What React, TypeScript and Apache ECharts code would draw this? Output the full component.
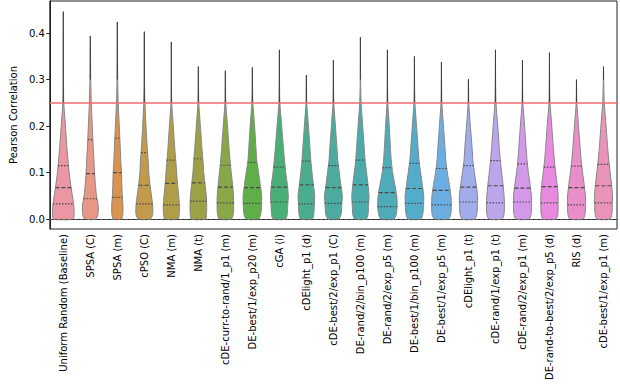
import React, { useEffect, useRef } from "react";
import * as echarts from "echarts";

const categories = [
  "Uniform Random (Baseline)",
  "SPSA (C)",
  "SPSA (m)",
  "cPSO (C)",
  "NMA (m)",
  "NMA (t)",
  "cDE-curr-to-rand/1_p1 (m)",
  "DE-best/1/exp_p20 (m)",
  "cGA (i)",
  "cDElight_p1 (d)",
  "cDE-best/2/exp_p1 (C)",
  "DE-rand/2/bin_p100 (m)",
  "DE-rand/2/exp_p5 (m)",
  "DE-best/1/bin_p100 (m)",
  "DE-best/1/exp_p5 (m)",
  "cDElight_p1 (t)",
  "cDE-rand/1/exp_p1 (t)",
  "cDE-rand/2/exp_p1 (m)",
  "DE-rand-to-best/2/exp_p5 (d)",
  "RIS (d)",
  "cDE-best/1/exp_p1 (m)",
];

const tops = [0.446, 0.394, 0.424, 0.403, 0.381, 0.328, 0.319, 0.326, 0.364, 0.31, 0.342,
  0.391, 0.364, 0.35, 0.338, 0.301, 0.364, 0.342, 0.358, 0.3, 0.328];
const q1 = [0.033, 0.044, 0.047, 0.033, 0.031, 0.039, 0.035, 0.034, 0.037, 0.033, 0.034,
  0.037, 0.027, 0.034, 0.031, 0.037, 0.035, 0.037, 0.035, 0.031, 0.035];
const medians = [0.068, 0.098, 0.1, 0.073, 0.077, 0.078, 0.069, 0.068, 0.069, 0.074, 0.068,
  0.074, 0.057, 0.066, 0.062, 0.069, 0.072, 0.067, 0.07, 0.068, 0.072];
const q3 = [0.115, 0.171, 0.174, 0.143, 0.127, 0.13, 0.116, 0.122, 0.112, 0.125, 0.115,
  0.127, 0.111, 0.12, 0.109, 0.115, 0.126, 0.119, 0.112, 0.114, 0.118];

const densityLevels = [0, 0.01, 0.03, 0.05, 0.075, 0.1, 0.125, 0.15, 0.2, 0.25, 0.3];
const halfWidths = [
  [10.0, 11.2, 10.8, 9.4, 7.6, 6.1, 4.9, 3.9, 2.2, 0.5, 0.15],
  [5.6, 7.9, 8.1, 6.4, 5.2, 4.4, 3.8, 3.1, 2.0, 1.0, 0.4],
  [4.1, 5.6, 5.8, 5.1, 4.6, 4.3, 3.6, 3.1, 2.0, 0.9, 0.35],
  [6.1, 8.6, 8.6, 7.4, 5.8, 4.6, 4.0, 3.1, 1.7, 0.6, 0.15],
  [6.6, 8.1, 8.3, 7.6, 6.4, 5.5, 4.6, 3.6, 2.0, 0.4, 0.1],
  [7.4, 8.4, 8.6, 8.2, 6.9, 5.6, 4.8, 3.8, 2.1, 0.45, 0.1],
  [6.1, 8.1, 8.6, 8.4, 7.4, 6.1, 4.9, 3.9, 2.2, 0.45, 0.1],
  [6.3, 8.6, 9.4, 9.6, 8.1, 6.4, 4.6, 3.8, 2.3, 0.5, 0.1],
  [6.3, 8.1, 8.6, 9.2, 8.2, 6.6, 5.4, 4.3, 2.4, 0.5, 0.15],
  [5.9, 7.6, 8.1, 8.6, 7.2, 5.8, 4.6, 3.8, 2.1, 0.4, 0.1],
  [5.6, 7.9, 8.6, 9.2, 7.6, 6.1, 4.6, 3.8, 2.1, 0.45, 0.1],
  [5.9, 7.9, 8.4, 8.9, 7.8, 6.4, 4.9, 4.1, 2.4, 0.7, 0.2],
  [6.6, 9.1, 10.1, 9.6, 7.6, 5.4, 4.0, 3.2, 1.9, 0.45, 0.1],
  [6.6, 8.6, 9.4, 9.6, 8.1, 6.4, 4.8, 3.9, 2.2, 0.5, 0.1],
  [7.1, 9.6, 10.2, 9.8, 8.1, 6.1, 4.6, 3.8, 2.1, 0.45, 0.1],
  [6.4, 8.6, 9.2, 9.4, 7.9, 6.2, 4.6, 3.9, 2.0, 0.35, 0.05],
  [6.6, 8.8, 9.3, 8.9, 7.8, 6.4, 5.1, 4.1, 2.4, 0.55, 0.15],
  [6.6, 8.8, 9.3, 9.2, 7.8, 6.1, 4.8, 3.9, 2.2, 0.45, 0.1],
  [6.6, 8.6, 8.9, 8.9, 7.9, 6.4, 5.1, 4.1, 2.4, 0.55, 0.15],
  [6.6, 8.8, 9.3, 9.2, 7.9, 6.3, 4.9, 3.9, 2.1, 0.35, 0.05],
  [6.6, 8.6, 9.1, 9.3, 8.3, 6.9, 5.6, 4.4, 2.7, 0.8, 0.2],
];

const thresholdValue = 0.248;
const yTickValues = [0, 0.1, 0.2, 0.3, 0.4];

const HM = [
  [3.2406, -1.5372, -0.4986],
  [-0.9689, 1.8758, 0.0415],
  [0.0557, -0.204, 1.057],
];
function maxChroma(L: number, H: number) {
  const hrad = (H / 360) * Math.PI * 2;
  const sinH = Math.sin(hrad), cosH = Math.cos(hrad);
  const sub1 = Math.pow(L + 16, 3) / 1560896;
  const sub2 = sub1 > 0.0088564516 ? sub1 : L / 903.2962962;
  let result = Infinity;
  for (const [m1, m2, m3] of HM) {
    const top = (0.99915 * m1 + 1.05122 * m2 + 1.1446 * m3) * sub2;
    const rb = 0.8633 * m3 - 0.17266 * m2;
    const lb = 0.12949 * m3 - 0.38848 * m1;
    const bottom = (rb * sinH + lb * cosH) * sub2;
    for (const t of [0, 1]) {
      const C = (L * (top - 1.05122 * t)) / (bottom + 0.17266 * sinH * t);
      if (C > 0 && C < result) result = C;
    }
  }
  return result;
}
function huslToRgb(h: number, s: number, l: number) {
  const L = l;
  const C = (maxChroma(L, h) / 100) * s;
  const hr = (h / 360) * Math.PI * 2;
  const U = C * Math.cos(hr), V = C * Math.sin(hr);
  const t = (L + 16) / 116;
  const Y = t * t * t > 0.0088564516 ? t * t * t : (116 * t - 16) / 903.2962962;
  const vu = U / (13 * L) + 0.19784;
  const vv = V / (13 * L) + 0.46834;
  const X = -(9 * Y * vu) / ((vu - 4) * vv - vu * vv);
  const Z = (9 * Y - 15 * vv * Y - vv * X) / (3 * vv);
  return HM.map((r) => {
    const c = r[0] * X + r[1] * Y + r[2] * Z;
    const v = c <= 0.0031308 ? 12.92 * c : 1.055 * Math.pow(c, 1 / 2.4) - 0.055;
    return Math.min(1, Math.max(0, v));
  });
}
function desaturate(rgb: number[], prop: number) {
  const [r, g, b] = rgb;
  const mx = Math.max(r, g, b), mn = Math.min(r, g, b);
  const l = (mx + mn) / 2;
  let h = 0, s = 0;
  if (mx !== mn) {
    const d = mx - mn;
    s = l <= 0.5 ? d / (mx + mn) : d / (2 - mx - mn);
    const rc = (mx - r) / d, gc = (mx - g) / d, bc = (mx - b) / d;
    if (r === mx) h = bc - gc;
    else if (g === mx) h = 2 + rc - bc;
    else h = 4 + gc - rc;
    h = ((h / 6) % 1 + 1) % 1;
  }
  s *= prop;
  const hue2 = (m1: number, m2: number, hh: number) => {
    hh = ((hh % 1) + 1) % 1;
    if (hh < 1 / 6) return m1 + (m2 - m1) * hh * 6;
    if (hh < 0.5) return m2;
    if (hh < 2 / 3) return m1 + (m2 - m1) * (2 / 3 - hh) * 6;
    return m1;
  };
  if (s === 0) return [l, l, l];
  const m2 = l <= 0.5 ? l * (1 + s) : l + s - l * s;
  const m1 = 2 * l - m2;
  return [hue2(m1, m2, h + 1 / 3), hue2(m1, m2, h), hue2(m1, m2, h - 1 / 3)];
}
function palette(n: number) {
  const out: string[] = [];
  for (let i = 0; i < n; i++) {
    const h = (((i / n) + 0.01) % 1) * 359;
    const rgb = desaturate(huslToRgb(h, 0.9 * 99, 0.7 * 99), 0.75);
    out.push("rgb(" + rgb.map((v) => Math.round(v * 255)).join(",") + ")");
  }
  return out;
}
const colors = palette(categories.length);

function widthAt(w: number[], v: number) {
  for (let i = 0; i < densityLevels.length - 1; i++) {
    if (v >= densityLevels[i] && v <= densityLevels[i + 1]) {
      const f = (v - densityLevels[i]) / (densityLevels[i + 1] - densityLevels[i]);
      return w[i] + f * (w[i + 1] - w[i]);
    }
  }
  return w[w.length - 1];
}

const REF_BAND = 27.86;

export default function App() {
  const ref = useRef<HTMLDivElement>(null);
  useEffect(() => {
    if (!ref.current) return;
    const chart = echarts.init(ref.current, null, { renderer: "svg" });
    const font = "DejaVu Sans";
    const renderItem = (params: any, api: any) => {
      const idx = api.value(0);
      const w = halfWidths[idx];
      const band = api.size([1, 0])[0];
      const k = band / REF_BAND;
      const cx = api.coord([idx, 0])[0];
      const right: number[][] = [];
      const left: number[][] = [];
      densityLevels.forEach((lv, i) => {
        const y = api.coord([idx, lv])[1];
        right.push([cx + w[i] * k, y]);
        left.push([cx - w[i] * k, y]);
      });
      const yTop = api.coord([idx, tops[idx]])[1];
      const pts = [...right, [cx, yTop], ...left.reverse()];
      const children: any[] = [
        {
          type: "polygon",
          shape: { points: pts, smooth: 0.2 },
          style: { fill: colors[idx], stroke: "#868686", lineWidth: 1 },
        },
      ];
      let tailStart = densityLevels[densityLevels.length - 1];
      for (let i = 0; i < densityLevels.length; i++) {
        if (densityLevels[i] > q3[idx] && w[i] <= 0.6) {
          tailStart = densityLevels[i];
          break;
        }
      }
      const yTail = api.coord([idx, tailStart])[1];
      children.push({
        type: "line",
        shape: { x1: cx, y1: yTail, x2: cx, y2: yTop },
        style: { stroke: "#3c3c3c", lineWidth: 1 },
      });
      const qs = [
        { v: q1[idx], dash: [1.5, 1.5] },
        { v: medians[idx], dash: [4, 2] },
        { v: q3[idx], dash: [1.5, 1.5] },
      ];
      qs.forEach((q) => {
        const hw = widthAt(w, q.v) * k;
        const y = api.coord([idx, q.v])[1];
        children.push({
          type: "line",
          shape: { x1: cx - hw, y1: y, x2: cx + hw, y2: y },
          style: { stroke: "#4a4a4a", lineWidth: 1.2, lineDash: q.dash },
        });
      });
      return { type: "group", children };
    };

    chart.setOption({
      animation: false,
      backgroundColor: "#ffffff",
      textStyle: { fontFamily: font, fontSize: 10, color: "#000" },
      grid: {
        left: 32,
        right: 3,
        top: 1,
        bottom: 155,
        show: true,
        borderColor: "#222",
        borderWidth: 1,
        backgroundColor: "transparent",
      },
      xAxis: {
        type: "category",
        data: categories,
        axisLine: { lineStyle: { color: "#222", width: 1 } },
        axisTick: { alignWithLabel: true, length: 3.5, lineStyle: { color: "#222" } },
        axisLabel: {
          rotate: 90,
          interval: 0,
          fontSize: 10,
          fontFamily: font,
          color: "#000",
          margin: 5,
        },
        splitLine: { show: false },
      },
      yAxis: {
        type: "value",
        min: -0.021,
        max: 0.469,
        name: "Pearson Correlation",
        nameLocation: "middle",
        nameGap: 25,
        nameTextStyle: { fontSize: 10, fontFamily: font, color: "#000" },
        axisLine: { show: true, lineStyle: { color: "#222", width: 1 } },
        axisTick: { show: true, length: 3.5, customValues: yTickValues, lineStyle: { color: "#222" } },
        axisLabel: {
          customValues: yTickValues,
          fontSize: 10,
          fontFamily: font,
          color: "#000",
          margin: 5,
          formatter: (v: number) => v.toFixed(1),
        },
        splitLine: { show: false },
      },
      series: [
        {
          type: "custom",
          renderItem,
          data: categories.map((_, i) => [i]),
          encode: { x: 0 },
          z: 2,
        },
        {
          type: "line",
          data: categories.map(() => null),
          symbol: "none",
          z: 5,
          silent: true,
          markLine: {
            silent: true,
            symbol: ["none", "none"],
            label: { show: false },
            data: [
              { yAxis: 0, lineStyle: { color: "#555", type: [3, 2], width: 1 } },
              { yAxis: thresholdValue, lineStyle: { color: "#f36b6b", type: "solid", width: 1.5 } },
            ],
          },
        },
      ],
    });
    return () => chart.dispose();
  }, []);
  return (
    <div
      ref={ref}
      style={{ position: "fixed", left: 0, top: 0, width: 620, height: 384, background: "#fff" }}
    />
  );
}
